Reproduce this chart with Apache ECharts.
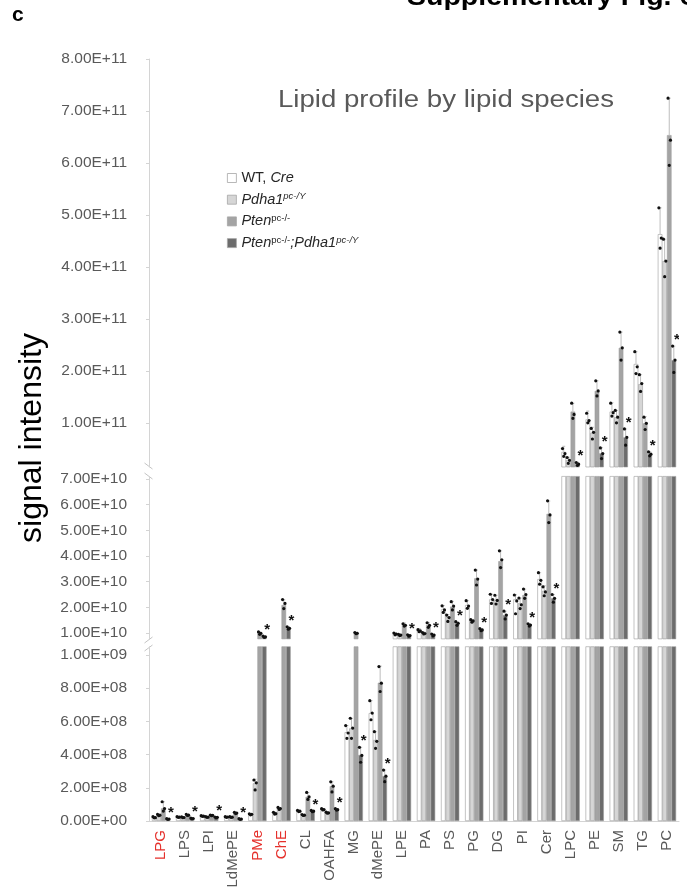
<!DOCTYPE html>
<html><head><meta charset="utf-8">
<script src="https://cdn.jsdelivr.net/npm/echarts@6/dist/echarts.min.js"></script>
<style>html,body{margin:0;padding:0;background:#fff}#c{width:687px;height:890px}</style>
</head><body><div id="c"></div>
<script>
// ---------------- DATA ----------------
const categories = ['LPG','LPS','LPI','LdMePE','PMe','ChE','CL','OAHFA','MG','dMePE','LPE','PA','PS','PG','DG','PI','Cer','LPC','PE','SM','TG','PC'];
const redCategories = ['LPG','PMe','ChE'];
const groupNames = ['WT, Cre','Pdha1 pc-/Y','Pten pc-/-','Pten pc-/-;Pdha1 pc-/Y'];

const meanWT    = [2.2e7,2.4e7,3.0e7,2.4e7,4.0e7,4.6e7,6.0e7,7.0e7,5.35e8,6.5e8,0.96e10,1.09e10,1.92e10,2.09e10,2.31e10,2.31e10,3.1e10,9.8e10,1.56e11,1.70e11,2.55e11,4.87e11];
const meanPdha1 = [3.6e7,2.2e7,2.4e7,2.4e7,2.27e8,7.6e7,3.6e7,5.0e7,5.58e8,4.88e8,0.92e10,0.99e10,1.64e10,1.47e10,2.29e10,2.16e10,2.64e10,8.35e10,1.32e11,1.60e11,2.19e11,4.39e11];
const meanPten  = [7.6e7,3.6e7,3.4e7,4.8e7,0.99e10,2.09e10,1.46e8,2.1e8,0.99e10,8.33e8,1.31e10,1.31e10,2.03e10,3.13e10,3.8e10,2.48e10,5.64e10,1.70e11,2.07e11,2.84e11,1.49e11,6.64e11];
const meanDouble= [1.2e7,1.5e7,2.2e7,1.2e7,0.85e10,1.18e10,6.0e7,7.0e7,3.98e8,2.71e8,0.9e10,0.92e10,1.38e10,1.12e10,1.7e10,1.31e10,2.35e10,7.64e10,9.55e10,1.24e11,9.42e10,2.62e11];

const errWT     = [0.5e7,0.3e7,0.3e7,0.3e7,0.3e7,0.8e7,0.5e7,0.5e7,0.4e8,0.75e8,0.05e10,0.08e10,0.15e10,0.17e10,0.2e10,0.18e10,0.25e10,0.1e11,0.15e11,0.16e11,0.22e11,0.47e11];
const errPdha1  = [0.4e7,0.3e7,0.3e7,0.3e7,0.25e8,0.5e7,0.3e7,0.3e7,0.6e8,0.5e8,0.04e10,0.05e10,0.08e10,0.06e10,0.18e10,0.2e10,0.2e10,0.05e11,0.1e11,0.12e11,0.17e11,0.39e11];
const errPten   = [0.4e8,0.5e7,0.3e7,0.5e7,0.05e10,0.2e10,0.26e8,0.26e8,0.04e10,1.0e8,0.08e10,0.1e10,0.2e10,0.32e10,0.4e10,0.23e10,0.5e10,0.15e11,0.18e11,0.28e11,0.12e11,0.66e11];
const errDouble = [0.2e7,0.2e7,0.2e7,0.2e7,0.03e10,0.06e10,0.4e7,0.4e7,0.46e8,0.36e8,0.03e10,0.04e10,0.06e10,0.05e10,0.15e10,0.05e10,0.15e10,0.03e11,0.1e11,0.15e11,0.04e11,0.25e11];

const dotsWT = [[2.6e7,2.0e7,1.9e7],[2.6e7,2.3e7,2.2e7],[3.2e7,2.9e7,2.8e7],[2.6e7,2.4e7,2.2e7],[4.3e7,4.0e7,3.7e7],[5.2e7,4.4e7,4.2e7],[6.4e7,5.9e7,5.7e7],[7.4e7,6.9e7,6.7e7],[5.75e8,5.3e8,4.98e8],[7.25e8,6.5e8,6.1e8],[1.0e10,0.96e10,0.93e10],[1.13e10,1.08e10,1.05e10],[2.06e10,1.9e10,1.8e10],[2.26e10,2.05e10,1.96e10],[2.51e10,2.3e10,2.15e10],[2.48e10,2.25e10,1.75e10],[3.35e10,3.05e10,2.9e10],[1.04e11,9.5e10,9.0e10],[1.67e11,1.54e11,1.50e11],[1.85e11,1.68e11,1.62e11],[2.77e11,2.5e11,2.38e11],[5.34e11,4.80e11,4.62e11]];
const dotsPdha1 = [[4.0e7,3.5e7,3.2e7],[2.5e7,2.1e7,2.0e7],[2.6e7,2.3e7,2.2e7],[2.6e7,2.3e7,2.2e7],[2.47e8,2.3e8,1.87e8],[8.2e7,7.5e7,7.0e7],[3.9e7,3.5e7,3.3e7],[5.3e7,4.9e7,4.7e7],[6.19e8,5.6e8,4.98e8],[5.38e8,4.8e8,4.38e8],[0.95e10,0.92e10,0.9e10],[1.02e10,0.98e10,0.96e10],[1.7e10,1.6e10,1.45e10],[1.52e10,1.47e10,1.42e10],[2.47e10,2.27e10,2.13e10],[2.36e10,2.1e10,1.95e10],[2.8e10,2.6e10,2.45e10],[8.8e10,8.3e10,7.76e10],[1.4e11,1.33e11,1.21e11],[1.72e11,1.6e11,1.5e11],[2.36e11,2.2e11,2.06e11],[4.78e11,4.39e11,4.11e11]];
const dotsPten = [[1.16e8,7.5e7,6.0e7],[4.0e7,3.5e7,3.3e7],[3.6e7,3.4e7,3.2e7],[5.2e7,4.8e7,4.5e7],[1.04e10,0.99e10,0.95e10],[2.3e10,2.15e10,1.95e10],[1.72e8,1.46e8,1.3e8],[2.36e8,2.1e8,1.75e8],[1.02e10,0.99e10,0.97e10],[9.3e8,8.3e8,7.8e8],[1.36e10,1.3e10,1.27e10],[1.4e10,1.3e10,1.22e10],[2.22e10,2.05e10,1.9e10],[3.45e10,3.1e10,2.87e10],[4.2e10,3.85e10,3.55e10],[2.71e10,2.5e10,2.35e10],[6.15e10,5.6e10,5.3e10],[1.85e11,1.65e11,1.58e11],[2.25e11,2.07e11,1.98e11],[3.12e11,2.84e11,2.62e11],[1.6e11,1.49e11,1.38e11],[7.30e11,6.55e11,6.1e11]];
const dotsDouble = [[1.4e7,1.2e7,1.0e7],[1.7e7,1.5e7,1.3e7],[2.4e7,2.2e7,2.0e7],[1.4e7,1.2e7,1.0e7],[0.88e10,0.85e10,0.83e10],[1.24e10,1.18e10,1.15e10],[6.4e7,5.9e7,5.6e7],[7.4e7,6.8e7,6.6e7],[4.44e8,3.95e8,3.54e8],[3.07e8,2.7e8,2.37e8],[0.93e10,0.9e10,0.88e10],[0.96e10,0.92e10,0.89e10],[1.44e10,1.38e10,1.3e10],[1.17e10,1.12e10,1.09e10],[1.85e10,1.7e10,1.55e10],[1.36e10,1.31e10,1.27e10],[2.5e10,2.35e10,2.2e10],[7.9e10,7.6e10,7.4e10],[1.05e11,9.5e10,8.6e10],[1.39e11,1.24e11,1.1e11],[9.8e10,9.4e10,9.1e10],[2.87e11,2.62e11,2.4e11]];

// significance (*) of Pten;Pdha1 group per category
const significant = [1,1,1,1,1,1,1,1,1,1,1,1,1,1,1,1,1,1,1,1,1,1];

const topTicks = [1e11,2e11,3e11,4e11,5e11,6e11,7e11,8e11];
const midTicks = [1e10,2e10,3e10,4e10,5e10,6e10,7e10];
const botTicks = [0,2e8,4e8,6e8,8e8,1e9];

// ---------------- STYLE / LAYOUT ----------------
const means = [meanWT, meanPdha1, meanPten, meanDouble];
const errs = [errWT, errPdha1, errPten, errDouble];
const dots = [dotsWT, dotsPdha1, dotsPten, dotsDouble];
const colors = ['#ffffff','#d6d6d6','#a4a4a4','#6c6c6c'];
const dotOffsets = [-1.2, 1.2, 0];
const GAP = 0.24;
const FONT = 'Liberation Sans, Arial, sans-serif';
const GL = 149, GW = 530;
const grids = [
  {left: GL, width: GW, top: 59, height: 408},      // top panel
  {left: GL, width: GW, top: 476.4, height: 162.5}, // middle panel
  {left: GL, width: GW, top: 646.7, height: 174.3}  // bottom panel
];
const axisGrey = '#d4d4d4';
function sci(v) {
  return v.toExponential(2).toUpperCase().replace(/E([+-])(\d)$/, 'E$10$2');
}
function valueAxis(gridIndex, min, max, ticks, show) {
  return {
    type: 'value', gridIndex, min, max, show, position: 'left',
    splitLine: {show: false},
    axisLine: {show: true, lineStyle: {color: axisGrey, width: 1}},
    axisTick: {show: true, inside: false, length: 3, lineStyle: {color: axisGrey}, customValues: ticks},
    axisLabel: {show: true, customValues: ticks, formatter: sci, margin: 22,
      color: '#595959', fontSize: 15.5, fontFamily: FONT}
  };
}
const yAxes = [
  {type: 'value', gridIndex: 0, min: 7.1e10, max: 8e11, show: false}, // bar scale of top panel
  valueAxis(0, 1.5e10, 8e11, topTicks, true),
  valueAxis(1, 7.7e9, 7.1e10, midTicks, true),
  valueAxis(2, 0, 1.05e9, botTicks, true)
];
const barAxisIdx = [0, 2, 3];

const xAxes = grids.map((g, i) => ({
  type: 'category', gridIndex: i, data: categories, show: i === 2,
  axisLine: {show: i === 2, lineStyle: {color: axisGrey}},
  axisTick: {show: false},
  axisLabel: {show: i === 2, interval: 0, rotate: 90, margin: 9, fontSize: 15, fontFamily: FONT,
    color: (v) => redCategories.indexOf(v) >= 0 ? '#e5302b' : '#595959'}
}));

const series = [];
grids.forEach((g, gi) => {
  for (let k = 0; k < 4; k++) {
    series.push({
      type: 'bar', name: groupNames[k], xAxisIndex: gi, yAxisIndex: barAxisIdx[gi],
      data: means[k], barGap: '0%', barCategoryGap: (GAP * 100) + '%', clip: true,
      itemStyle: {color: colors[k], borderColor: '#9c9c9c', borderWidth: 0.6},
      silent: true, z: 2
    });
  }
  const items = [];
  for (let k = 0; k < 4; k++) for (let c = 0; c < categories.length; c++) items.push([c, k]);
  series.push({
    type: 'custom', xAxisIndex: gi, yAxisIndex: barAxisIdx[gi], data: items, clip: true, silent: true, z: 5,
    encode: {x: 0, y: 1},
    renderItem: function (params, api) {
      const c = api.value(0), k = api.value(1);
      const cs = params.coordSys;
      const yTop = cs.y, yBot = cs.y + cs.height;
      const band = api.size([1, 0])[0];
      const bw = band * (1 - GAP) / 4;
      const cx = api.coord([c, 0])[0] + (k - 1.5) * bw;
      const m = means[k][c], e = errs[k][c], ds = dots[k][c];
      const ch = [];
      const y0 = api.coord([c, m])[1], y1 = api.coord([c, m + e])[1];
      const a = Math.min(Math.max(y0, yTop), yBot), b = Math.min(Math.max(y1, yTop), yBot);
      if (a - b > 0.5) ch.push({type: 'line', shape: {x1: cx, y1: a, x2: cx, y2: b}, style: {stroke: '#bdbdbd', lineWidth: 1}});
      if (y1 >= yTop && y1 <= yBot) ch.push({type: 'line', shape: {x1: cx - 1.5, y1: y1, x2: cx + 1.5, y2: y1}, style: {stroke: '#bdbdbd', lineWidth: 1}});
      ds.forEach((v, j) => {
        const y = api.coord([c, v])[1];
        if (y >= yTop && y <= yBot) ch.push({type: 'circle', shape: {cx: cx + dotOffsets[j], cy: y, r: 1.6}, style: {fill: '#111'}});
      });
      if (k === 3 && significant[c]) {
        const top = Math.max(m + e, Math.max.apply(null, ds));
        const y = api.coord([c, top])[1];
        if (y >= yTop && y <= yBot) ch.push({type: 'text', x: cx + 3, y: y - 6,
          style: {text: '*', fill: '#111', font: 'bold 15px ' + FONT, align: 'center', verticalAlign: 'middle'}});
      }
      return {type: 'group', children: ch};
    }
  });
});

const legendLabels = ['{n|WT, }{i|Cre}', '{i|Pdha1}{si|pc-/Y}', '{i|Pten}{s|pc-/-}', '{i|Pten}{s|pc-/-}{i|;Pdha1}{si|pc-/Y}'];

const breakStyle = {stroke: '#c4c4c4', lineWidth: 1};
const chart = echarts.init(document.getElementById('c'), null, {renderer: 'canvas'});
chart.setOption({
  animation: false,
  backgroundColor: '#fff',
  grid: grids.map(g => Object.assign({containLabel: false, outerBoundsMode: 'none'}, g)),
  xAxis: xAxes,
  yAxis: yAxes,
  legend: {
    data: groupNames, orient: 'vertical', left: 227, top: 170, padding: 0,
    itemWidth: 9, itemHeight: 9, itemGap: 5.7, icon: 'rect', selectedMode: false,
    itemStyle: {borderColor: '#a6a6a6', borderWidth: 0.8},
    formatter: (name) => legendLabels[groupNames.indexOf(name)],
    textStyle: {fontFamily: FONT, fontSize: 14.5, color: '#262626', lineHeight: 16,
      rich: {
        n: {fontSize: 14.5, lineHeight: 16, fontFamily: FONT, color: '#262626'},
        i: {fontSize: 14.5, lineHeight: 16, fontStyle: 'italic', fontFamily: FONT, color: '#262626'},
        s: {fontSize: 9.5, lineHeight: 10, verticalAlign: 'top', fontFamily: FONT, color: '#262626'},
        si: {fontSize: 9.5, lineHeight: 10, verticalAlign: 'top', fontStyle: 'italic', fontFamily: FONT, color: '#262626'}
      }}
  },
  graphic: [
    {type: 'text', x: 12, y: 15, style: {text: 'c', font: 'bold 21px ' + FONT, fill: '#000', verticalAlign: 'middle'}},
    {type: 'text', x: 407, y: -1.5, scaleX: 1.14, style: {text: 'Supplementary Fig. 6', font: 'bold 25px ' + FONT, fill: '#000', verticalAlign: 'middle'}},
    {type: 'text', x: 278, y: 101, scaleX: 1.2, style: {text: 'Lipid profile by lipid species', font: '23px ' + FONT, fill: '#595959', verticalAlign: 'middle'}},
    {type: 'text', x: 32, y: 438, rotation: Math.PI / 2, style: {text: 'signal intensity', font: '32px ' + FONT, fill: '#000', align: 'center', verticalAlign: 'middle'}},
    {type: 'line', shape: {x1: 144.5, y1: 463, x2: 152.5, y2: 469}, style: breakStyle},
    {type: 'line', shape: {x1: 144.5, y1: 473, x2: 152.5, y2: 479}, style: breakStyle},
    {type: 'line', shape: {x1: 144.5, y1: 643, x2: 152.5, y2: 637}, style: breakStyle},
    {type: 'line', shape: {x1: 144.5, y1: 651, x2: 152.5, y2: 645}, style: breakStyle}
  ],
  series: series
});
</script></body></html>
